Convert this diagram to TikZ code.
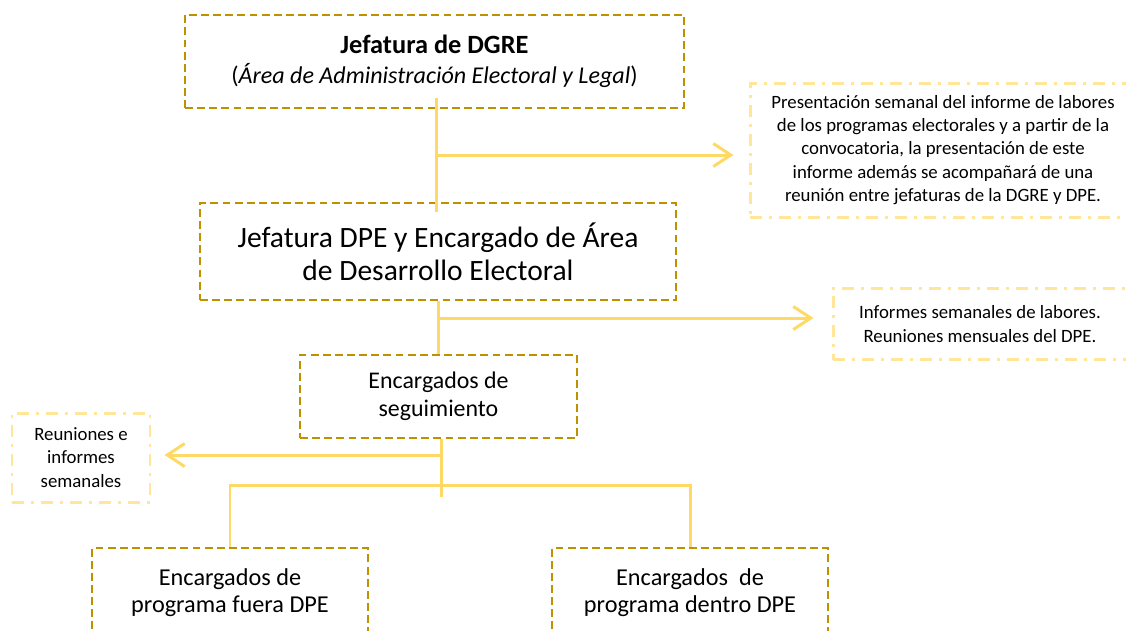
\documentclass[tikz,border=0pt]{standalone}
\usepackage{fontspec}
\setmainfont{Carlito}
\usetikzlibrary{arrows.meta,calc,positioning}

\definecolor{darkgold}{RGB}{191,144,0}
\definecolor{paleyellow}{RGB}{255,230,153}
\definecolor{linkyellow}{RGB}{255,217,102}

\begin{document}
\begin{tikzpicture}[
    mainbox/.style={draw=darkgold, line width=1.5pt, dash pattern=on 4.5pt off 2.4pt, align=center, inner sep=0pt},
    notebox/.style={draw=paleyellow, line width=1.7pt, dash pattern=on 6.8pt off 4pt on 1.7pt off 4pt, align=center, inner sep=0pt, font=\fontsize{10.7}{13.3}\selectfont},
    link/.style={draw=linkyellow, line width=1.7pt},
    arrowlink/.style={link, -{Straight Barb[length=3.5mm,width=4.6mm]}}
  ]
        \clip (0,0) rectangle (22.52,-12.6);
        % jefaturas
        \node[mainbox, minimum width=9.98cm, minimum height=1.86cm, font=\fontsize{13.7}{17}\selectfont] (dgre) at (8.69,-1.23)
          {{\fontsize{15}{17}\selectfont\textbf{Jefatura de DGRE}}\\(\textit{Área de Administración Electoral y Legal})};
        \node[mainbox, minimum width=9.52cm, minimum height=1.94cm, font=\fontsize{16.8}{19}\selectfont] (dpe) at (8.76,-5.03)
          {Jefatura DPE y Encargado de Área\\de Desarrollo Electoral};
        \node[mainbox, minimum width=5.54cm, minimum height=1.66cm, font=\fontsize{13.6}{16}\selectfont] (seg) at (8.77,-7.93)
          {Encargados de\\seguimiento};
        \node[mainbox, minimum width=5.52cm, minimum height=1.8cm, font=\fontsize{13.8}{15.5}\selectfont] (fuera) at (4.6,-11.86)
          {Encargados de\\programa fuera DPE};
        \node[mainbox, minimum width=5.52cm, minimum height=1.8cm, font=\fontsize{13.8}{15.5}\selectfont] (dentro) at (13.8,-11.86)
          {Encargados\ \ de\\programa dentro DPE};

        % notas
        \node[notebox, minimum width=7.72cm, minimum height=2.68cm] (nota1) at (18.86,-3.0)
          {Presentación semanal del informe de labores\\de los programas electorales y a partir de la\\convocatoria, la presentación de este\\informe además se acompañará de una\\reunión entre jefaturas de la DGRE y DPE.};
        \node[notebox, minimum width=5.88cm, minimum height=1.42cm] (nota2) at (19.6,-6.48)
          {Informes semanales de labores.\\Reuniones mensuales del DPE.};
        \node[notebox, minimum width=2.76cm, minimum height=1.78cm] (nota3) at (1.62,-9.15)
          {Reuniones e\\informes\\semanales};

        % conectores
        \coordinate (j1) at (8.72,-3.1);
        \coordinate (j2) at (8.76,-6.36);
        \coordinate (j3) at (8.82,-9.1);
        \coordinate (rama) at (8.82,-9.7);
        \coordinate (fin) at (8.82,-9.94);
        \draw[link] ($(dgre.south)+(0.03,0.22)$) -- ($(dpe.north)+(-0.04,-0.2)$);
        \draw[arrowlink, shorten >=0.3cm] (j1) -- (nota1.west |- j1);
        \draw[link] (dpe.south) -- (dpe.south |- seg.north);
        \draw[arrowlink, shorten >=0.36cm] (j2) -- (nota2.west |- j2);
        \draw[link] (seg.south -| fin) -- (fin);
        \draw[arrowlink, shorten >=0.26cm] (j3) -- (nota3.east |- j3);
        \draw[link] (fuera.north) -- (fuera.north |- rama) -- (dentro.north |- rama) -- (dentro.north);
\end{tikzpicture}
\end{document}
